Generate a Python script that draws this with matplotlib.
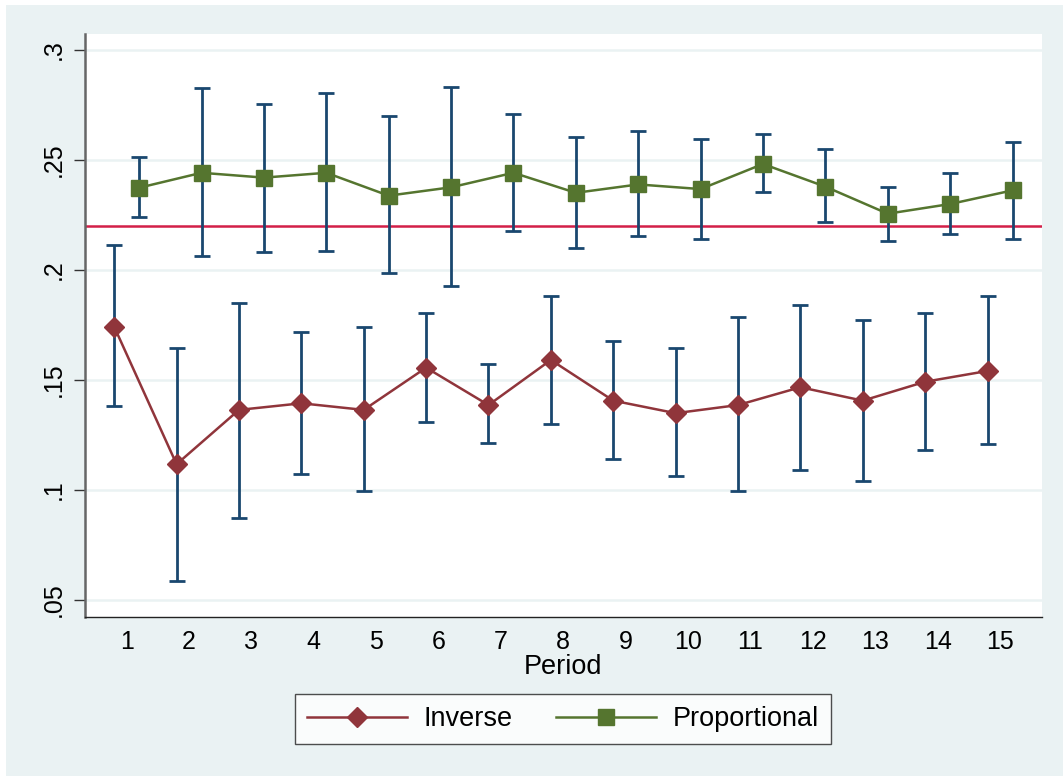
import matplotlib
matplotlib.use("Agg")
import matplotlib.pyplot as plt
from matplotlib.patches import Rectangle

plt.rcParams['font.family'] = ['Liberation Sans', 'DejaVu Sans']

periods = list(range(1, 16))

# Inverse treatment: mean and confidence interval bounds
inv_mean = [0.1742, 0.1117, 0.1364, 0.1394, 0.1364, 0.1556, 0.1386, 0.1591,
            0.1406, 0.1349, 0.1386, 0.1467, 0.1406, 0.1492, 0.1541]
inv_lo = [0.1383, 0.0586, 0.0874, 0.1074, 0.0994, 0.1311, 0.1215, 0.1300,
          0.1141, 0.1062, 0.0994, 0.1090, 0.1040, 0.1180, 0.1209]
inv_hi = [0.2114, 0.1645, 0.1849, 0.1718, 0.1741, 0.1803, 0.1571, 0.1883,
          0.1677, 0.1644, 0.1785, 0.1842, 0.1774, 0.1803, 0.1883]

# Proportional treatment
prop_mean = [0.2374, 0.2442, 0.2420, 0.2442, 0.2338, 0.2376, 0.2442, 0.2351,
             0.2389, 0.2368, 0.2482, 0.2379, 0.2256, 0.2300, 0.2362]
prop_lo = [0.2240, 0.2062, 0.2080, 0.2086, 0.1985, 0.1929, 0.2179, 0.2099,
           0.2155, 0.2142, 0.2353, 0.2217, 0.2133, 0.2165, 0.2142]
prop_hi = [0.2512, 0.2826, 0.2753, 0.2803, 0.2701, 0.2832, 0.2708, 0.2606,
           0.2633, 0.2594, 0.2617, 0.2549, 0.2379, 0.2441, 0.2583]

ref_value = 0.22
y_ticks = [0.05, 0.1, 0.15, 0.2, 0.25, 0.3]
y_tick_labels = ['.05', '.1', '.15', '.2', '.25', '.3']

bg = '#EAF2F3'
c_inv = '#90353B'
c_prop = '#55752F'
c_err = '#1A476F'
c_ref = '#D31F48'

W, H = 1063, 776
fig = plt.figure(figsize=(W / 100, H / 100), dpi=100, facecolor='white')
fig.patches.append(Rectangle((6 / W, 0), 1 - 6 / W, 1 - 5 / H,
                             transform=fig.transFigure, facecolor=bg,
                             edgecolor='none', zorder=-10))

ax = fig.add_axes([85 / W, 1 - 617.3 / H, (1041.7 - 85) / W, (617.3 - 34) / H])
ax.set_facecolor('white')

x_inv = [p - 0.2 for p in periods]
x_prop = [p + 0.2 for p in periods]

for y in y_ticks:
    ax.axhline(y, color=bg, lw=1.8, zorder=0)
ax.axhline(ref_value, color=c_ref, lw=1.8, zorder=1)

ax.errorbar(x_inv, inv_mean,
            yerr=[[m - l for m, l in zip(inv_mean, inv_lo)],
                  [h - m for m, h in zip(inv_mean, inv_hi)]],
            fmt='none', ecolor=c_err, elinewidth=2.0, capsize=5.5,
            capthick=2.0, zorder=2)
ax.errorbar(x_prop, prop_mean,
            yerr=[[m - l for m, l in zip(prop_mean, prop_lo)],
                  [h - m for m, h in zip(prop_mean, prop_hi)]],
            fmt='none', ecolor=c_err, elinewidth=2.0, capsize=5.5,
            capthick=2.0, zorder=2)

l1, = ax.plot(x_inv, inv_mean, color=c_inv, lw=1.8, marker='D', ms=10.5,
              zorder=3, label='Inverse')
l2, = ax.plot(x_prop, prop_mean, color=c_prop, lw=1.8, marker='s', ms=12,
              zorder=3, label='Proportional')

ax.set_xlim(0.332, 15.668)
ax.set_ylim(0.0421, 0.3073)
ax.set_xticks(periods)
ax.set_xticklabels([str(p) for p in periods], fontsize=18)
ax.tick_params(axis='x', length=0, pad=9)
ax.set_yticks(y_ticks)
ax.set_yticklabels(y_tick_labels, fontsize=18, rotation=90, va='center')
ax.tick_params(axis='y', length=8, width=1, color='#333333', pad=6)
ax.set_xlabel('Period', fontsize=19.5, labelpad=0)

for side in ['top', 'right']:
    ax.spines[side].set_visible(False)
ax.spines['left'].set_color('#666666')
ax.spines['left'].set_linewidth(1.8)
ax.spines['bottom'].set_color('#222222')
ax.spines['bottom'].set_linewidth(1.0)

leg = fig.legend(handles=[l1, l2], loc='center',
                 bbox_to_anchor=(563 / W, 1 - 719 / H), ncol=2,
                 fontsize=19.5, frameon=True, fancybox=False,
                 handlelength=3.7, handletextpad=0.6, columnspacing=1.6,
                 borderpad=0.45)
leg.get_frame().set_edgecolor('#222222')
leg.get_frame().set_linewidth(1.0)

fig.savefig('out.png', dpi=100, facecolor=fig.get_facecolor())
